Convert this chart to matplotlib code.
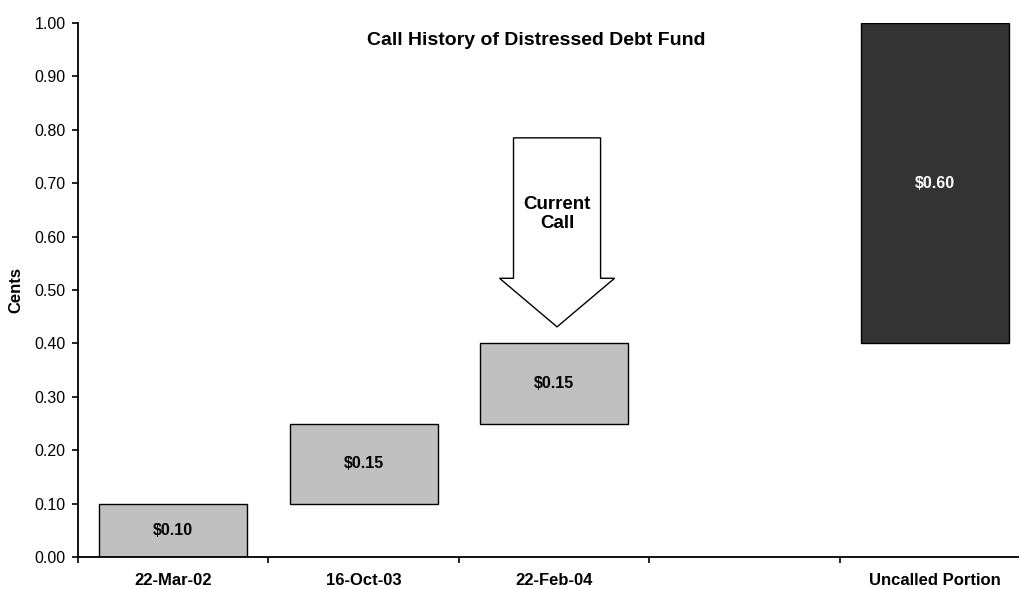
import matplotlib.pyplot as plt
from matplotlib.patches import FancyArrow
import numpy as np

plt.rcParams['font.family'] = ['Liberation Sans', 'DejaVu Sans']

# data
categories = ['22-Mar-02', '16-Oct-03', '22-Feb-04', '', 'Uncalled Portion']
called = [0.10, 0.15, 0.15]
uncalled = 0.60
call_labels = ['$0.10', '$0.15', '$0.15']
uncalled_label = '$0.60'
yticks = np.arange(0, 1.01, 0.1)

fig = plt.figure(figsize=(10.19, 5.89), dpi=100)
# the category axis runs a little past the right edge, as in the original
ax = fig.add_axes([0.0765, 0.0543, 0.9347, 0.9066])

# waterfall: each call sits on top of the previous ones
bw = 0.777
bottoms = np.concatenate([[0], np.cumsum(called)[:-1]])
x_calls = np.arange(len(called))
ax.bar(x_calls, called, bottom=bottoms, width=bw, color='#c0c0c0',
       edgecolor='black', linewidth=1)
for xi, b, h, lab in zip(x_calls, bottoms, called, call_labels):
    ax.text(xi, b + h / 2, lab, ha='center', va='center', fontsize=11.5,
            fontweight='bold', color='black')

x_unc = len(categories) - 1
unc_bottom = sum(called)
ax.bar(x_unc, uncalled, bottom=unc_bottom, width=bw, color='#333333',
       edgecolor='black', linewidth=1)
ax.text(x_unc, unc_bottom + uncalled / 2, uncalled_label, ha='center', va='center',
        fontsize=11.5, fontweight='bold', color='white')

# "current call" arrow above the latest call
cur = len(called) - 1
top_cur = sum(called)
ax_x = cur + 0.015
arr = FancyArrow(ax_x, 0.785, 0, -(0.785 - top_cur - 0.031), width=0.457,
                 head_width=0.604, head_length=0.091, length_includes_head=True,
                 facecolor='white', edgecolor='black', linewidth=1, zorder=3)
ax.add_patch(arr)
ax.text(ax_x, 0.642, 'Current\nCall', ha='center', va='center', fontsize=13.5,
        fontweight='bold', linespacing=1.2, zorder=4)

ax.text(1.906, 0.968, 'Call History of Distressed Debt Fund', ha='center',
        va='center', fontsize=14, fontweight='bold')

ax.set_xlim(-0.5, len(categories) - 0.5)
ax.set_ylim(0, 1.0)
ax.set_yticks(yticks)
ax.set_yticklabels(['%.2f' % t for t in yticks], fontsize=11.5)
ax.set_ylabel('Cents', fontsize=12, fontweight='bold')
ax.yaxis.set_label_coords(-0.057, 0.5)

# boundary ticks on the category axis, labels at the centres
ax.set_xticks(np.arange(len(categories) + 1) - 0.5)
ax.set_xticklabels([])
ax.set_xticks(np.arange(len(categories)), minor=True)
ax.set_xticklabels(categories, minor=True, fontsize=12, fontweight='bold')
ax.tick_params(axis='x', which='major', direction='out', length=4, width=1.2)
ax.tick_params(axis='x', which='minor', length=0, pad=11.5)
ax.tick_params(axis='y', direction='out', length=4, width=1.2, pad=5)

ax.spines['top'].set_visible(False)
ax.spines['right'].set_visible(False)
ax.spines['left'].set_linewidth(1.3)
ax.spines['bottom'].set_linewidth(1.3)

plt.savefig('out.png', dpi=100)
